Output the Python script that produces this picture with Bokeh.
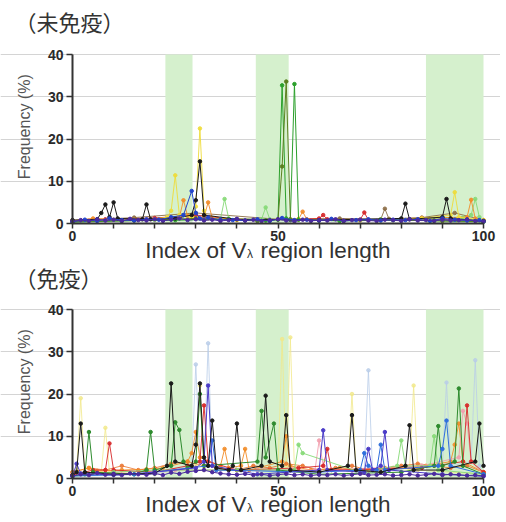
import math
from bokeh.plotting import figure
from bokeh.models import Range1d, FixedTicker, BoxAnnotation, Label
from bokeh.layouts import column
from bokeh.embed import file_html
from bokeh.resources import INLINE

# ---------------- data ----------------
title_top = "（未免疫）"
title_bottom = "（免疫）"
y_label = "Frequency (%)"
x_label_parts = ["Index of V", "λ", "region length"]
y_ticks = [0, 10, 20, 30, 40]
x_ticks = [0, 50, 100]
x_minor = [10, 20, 30, 40, 60, 70, 80, 90]
bands = [(22.6, 29.2), (44.6, 52.6), (86.0, 100.0)]

base_x = list(range(0, 101, 2))
base_x4 = list(range(0, 101, 4))

# top panel (unimmunised)
top_purple_y = [0.5, 0.8, 0.6, 1.0, 0.7, 0.9, 0.6, 1.1, 0.8, 0.7,
                1.0, 0.6, 0.9, 1.2, 0.8, 1.0, 0.7, 0.9, 0.6, 0.8,
                1.1, 0.7, 0.9, 0.6, 0.8, 1.0, 0.7, 0.5, 0.9, 0.6,
                0.8, 0.7, 1.0, 0.6, 0.8, 0.9, 0.7, 0.6, 0.9, 0.8,
                0.6, 1.0, 0.7, 0.8, 0.6, 0.9, 0.7, 0.8, 1.0, 0.6,
                0.5]
top_blue_x = [0, 3, 6, 9, 12, 15, 18, 21, 24, 27, 29, 30, 31, 33, 36, 39, 42, 45, 48, 51,
              54, 57, 60, 63, 66, 69, 72, 75, 78, 81, 84, 87, 90, 93, 96, 99, 100]
top_blue_y = [0.4, 0.9, 0.6, 1.2, 0.8, 0.7, 1.0, 0.9, 1.5, 2.0, 7.7, 2.5, 1.2, 1.4, 0.9, 0.8, 0.7, 1.0, 0.6, 1.3,
              0.8, 0.9, 0.7, 1.1, 0.6, 0.8, 1.0, 0.7, 0.9, 0.8, 1.0, 0.6, 1.2, 0.9, 0.7, 0.8, 0.5]
top_green_x = [0, 12, 25, 38, 47, 50, 51, 52, 53, 54, 55, 65, 78, 88, 100]
top_green_y = [0.3, 0.6, 0.8, 1.0, 0.7, 0.9, 32.7, 1.2, 0.8, 33.0, 0.9, 0.6, 0.8, 0.7, 0.4]
top_olive_x = [0, 15, 30, 45, 50, 51, 52, 53, 60, 75, 90, 100]
top_olive_y = [0.5, 0.7, 1.2, 0.6, 1.0, 13.5, 33.6, 1.0, 0.7, 0.9, 0.6, 0.5]
top_yellow_x = [0, 10, 20, 23, 24, 25, 26, 29, 30, 31, 32, 33, 40, 55, 70, 85, 92, 93, 94, 100]
top_yellow_y = [0.6, 0.9, 1.0, 1.5, 3.0, 11.4, 2.0, 1.5, 4.0, 22.5, 3.0, 1.2, 0.8, 1.0, 0.7, 1.2, 2.0, 7.4, 1.5, 0.8]
top_black_x = [0, 6, 7, 8, 9, 10, 11, 17, 18, 19, 25, 29, 30, 31, 32, 40, 60, 80, 81, 82, 90, 91, 92, 100]
top_black_y = [0.8, 1.0, 2.5, 4.5, 1.5, 5.0, 1.2, 1.0, 4.5, 1.0, 1.2, 2.0, 5.5, 14.7, 2.0, 1.0, 0.8, 1.2, 4.7, 1.0, 1.5, 5.8, 1.2, 0.6]
top_orange_x = [0, 5, 15, 26, 27, 28, 32, 33, 34, 45, 55, 56, 57, 70, 85, 96, 97, 98, 100]
top_orange_y = [0.7, 1.2, 0.9, 1.5, 5.5, 1.8, 1.5, 5.0, 1.3, 0.9, 1.0, 2.8, 1.0, 0.8, 1.3, 1.5, 5.6, 1.2, 0.7]
top_lgreen_x = [0, 20, 36, 37, 38, 46, 47, 48, 60, 75, 95, 97, 98, 99, 100]
top_lgreen_y = [0.5, 0.8, 1.0, 5.8, 1.2, 1.0, 3.8, 1.0, 0.7, 1.0, 1.4, 2.0, 5.8, 1.5, 0.6]
top_red_x = [0, 8, 20, 30, 40, 55, 60, 61, 62, 70, 71, 72, 85, 100]
top_red_y = [0.4, 1.0, 1.3, 2.0, 0.9, 1.0, 1.2, 2.0, 1.0, 0.9, 2.6, 0.8, 1.1, 0.6]
top_brown_x = [0, 15, 30, 50, 65, 75, 76, 77, 85, 93, 100]
top_brown_y = [0.6, 1.4, 2.5, 1.0, 1.2, 1.0, 3.5, 1.1, 1.4, 2.5, 0.8]

# bottom panel (immunised)
bot_orange_base_y = [1.5, 2.5, 2.0, 3.0, 2.0, 2.5, 3.5, 4.0, 3.0, 2.5,
                     2.0, 3.0, 2.5, 3.5, 3.0, 2.0, 2.5, 3.0, 2.0, 2.5,
                     3.0, 3.5, 3.0, 2.5, 3.0, 1.5]
bot_purple_y = [0.6, 1.0, 0.8, 1.3, 0.9, 1.1, 0.8, 1.2, 1.0, 0.9,
                1.2, 0.8, 1.4, 1.1, 1.6, 1.8, 2.0, 1.5, 1.2, 1.0,
                0.9, 1.1, 0.8, 1.0, 0.7, 0.9, 1.1, 0.8, 1.0, 0.7,
                0.9, 0.8, 1.0, 0.7, 0.9, 1.1, 0.8, 0.9, 1.0, 0.7,
                0.8, 1.0, 0.7, 0.9, 1.1, 0.8, 1.0, 0.9, 0.7, 0.8,
                0.6]
bot_ltyellow_x = [0, 1, 2, 3, 7, 8, 9, 20, 30, 31, 32, 50, 51, 52, 53, 54, 67, 68, 69, 82, 83, 84, 100]
bot_ltyellow_y = [0.5, 2.0, 19.0, 1.5, 1.5, 12.0, 1.5, 1.0, 3.0, 22.0, 2.0, 2.0, 33.0, 3.0, 33.4, 2.0, 2.0, 20.0, 2.0, 2.0, 22.0, 2.0, 1.0]
bot_ltblue_x = [0, 20, 29, 30, 31, 32, 33, 34, 50, 71, 72, 73, 90, 91, 92, 97, 98, 99, 100]
bot_ltblue_y = [0.5, 1.0, 3.0, 27.0, 4.0, 3.0, 32.0, 3.0, 1.5, 2.0, 25.6, 2.0, 3.0, 22.7, 3.0, 4.0, 28.0, 3.0, 1.0]
bot_orange_x = [0, 4, 6, 12, 18, 22, 28, 29, 30, 31, 36, 37, 38, 41, 42, 43, 51, 52, 53, 58,
                65, 70, 78, 86, 92, 93, 94, 95, 100]
bot_orange_y = [1.5, 2.5, 1.8, 2.0, 2.2, 2.5, 4.0, 6.0, 11.0, 5.0, 3.0, 7.0, 2.5, 3.0, 7.0, 2.0, 4.0, 10.0, 3.0, 2.0,
                2.5, 2.0, 2.5, 3.0, 4.0, 8.0, 13.0, 4.0, 1.5]
bot_pink_x = [0, 10, 25, 45, 59, 60, 61, 62, 85, 94, 95, 96, 97, 100]
bot_pink_y = [1.0, 1.5, 2.0, 2.0, 2.0, 9.0, 3.0, 2.0, 3.0, 5.0, 16.0, 13.0, 4.0, 1.0]
bot_red_x = [0, 5, 8, 9, 10, 20, 28, 31, 32, 33, 40, 55, 61, 62, 63, 85, 95, 96, 97, 100]
bot_red_y = [0.8, 2.0, 2.0, 8.3, 2.0, 1.5, 3.0, 4.0, 17.3, 4.0, 2.0, 2.5, 3.0, 7.0, 2.0, 2.5, 4.0, 17.3, 4.0, 1.5]
bot_lgreen_x = [0, 10, 20, 40, 54, 55, 56, 70, 79, 80, 81, 87, 88, 89, 100]
bot_lgreen_y = [0.5, 1.5, 2.0, 2.0, 2.0, 8.0, 6.0, 1.5, 3.0, 9.0, 3.0, 3.0, 10.0, 2.0, 1.0]
bot_green_x = [0, 3, 4, 5, 15, 18, 19, 20, 24, 25, 26, 27, 28, 30, 31, 32, 45, 46, 47, 49,
               50, 60, 80, 88, 89, 90, 93, 94, 95, 100]
bot_green_y = [0.6, 1.0, 11.0, 1.5, 1.0, 2.0, 11.0, 2.0, 3.0, 13.3, 11.5, 4.0, 2.5, 4.0, 20.0, 3.0, 4.0, 16.0, 5.0, 13.0,
               2.0, 1.0, 1.5, 3.0, 12.4, 3.0, 4.0, 21.3, 3.0, 1.0]
bot_blue_x = [0, 15, 33, 34, 35, 60, 70, 71, 72, 74, 75, 76, 89, 90, 91, 92, 100]
bot_blue_y = [0.6, 1.0, 3.0, 9.0, 2.0, 1.5, 2.0, 6.0, 3.0, 2.0, 8.0, 2.0, 3.0, 7.0, 13.7, 3.0, 1.0]
bot_violet_x = [0, 1, 2, 10, 20, 30, 32, 33, 34, 45, 60, 61, 62, 71, 72, 73, 75, 76, 77, 90, 100]
bot_violet_y = [0.5, 3.5, 1.2, 0.8, 1.5, 2.5, 4.0, 22.0, 3.0, 1.0, 2.0, 11.4, 2.0, 1.5, 7.0, 2.0, 3.0, 11.0, 2.0, 1.0, 0.5]
bot_black_x = [0, 1, 2, 3, 10, 20, 23, 24, 25, 29, 30, 31, 32, 33, 34, 35, 38, 39, 40, 41,
               46, 47, 48, 51, 52, 53, 60, 67, 68, 69, 75, 81, 82, 83, 90, 98, 99, 100]
bot_black_y = [0.8, 1.5, 13.0, 1.5, 1.0, 1.2, 3.0, 22.5, 4.0, 3.0, 8.0, 22.5, 5.0, 3.0, 13.7, 2.5, 2.0, 3.0, 13.0, 2.0,
               3.0, 19.6, 4.0, 3.0, 15.0, 2.0, 1.5, 3.0, 15.0, 2.0, 1.5, 3.0, 12.6, 2.0, 2.0, 4.0, 13.0, 3.0]

top_series = [
    (top_brown_x, top_brown_y, "#8c6d46", 0.9),
    (top_red_x, top_red_y, "#d62728", 0.9),
    (top_lgreen_x, top_lgreen_y, "#86d977", 0.9),
    (top_orange_x, top_orange_y, "#f28c28", 0.9),
    (top_yellow_x, top_yellow_y, "#eedc3a", 0.9),
    (top_green_x, top_green_y, "#2ca02c", 1.0),
    (top_olive_x, top_olive_y, "#5b7f1f", 1.0),
    (top_black_x, top_black_y, "#1a1a1a", 1.0),
    (top_blue_x, top_blue_y, "#2244cc", 1.0),
    (base_x, top_purple_y, "#4b2a9e", 1.0),
]
bottom_series = [
    (bot_ltyellow_x, bot_ltyellow_y, "#f1e98a", 0.8),
    (bot_ltblue_x, bot_ltblue_y, "#b9cde8", 0.8),
    (base_x4, bot_orange_base_y, "#e8702a", 0.8),
    (bot_orange_x, bot_orange_y, "#f28c28", 0.9),
    (bot_pink_x, bot_pink_y, "#f2a0ae", 0.9),
    (bot_red_x, bot_red_y, "#d62728", 0.9),
    (bot_lgreen_x, bot_lgreen_y, "#86d977", 0.9),
    (bot_green_x, bot_green_y, "#2e8b2e", 1.0),
    (bot_blue_x, bot_blue_y, "#2f6fdc", 1.0),
    (bot_violet_x, bot_violet_y, "#4b3cc8", 1.0),
    (bot_black_x, bot_black_y, "#1a1a1a", 1.0),
    (base_x, bot_purple_y, "#4b2a9e", 1.0),
]

# ---------------- layout constants (pixels) ----------------
FONT = "Liberation Sans"
CJK = "Noto Sans CJK JP"
W = 500
LEFT = 72               # px from canvas left to x=0
PX_X = 411 / 100.0      # px per x unit
PX_Y = 169 / 40.0       # px per y unit
RIGHT = W - LEFT - 411  # px right of x=100


def px_to_x(px):
    return (px - LEFT) / PX_X


def make_panel(title, series, height, zero_px, title_px, label_px):
    # zero_px: distance of y=0 from the top of the canvas
    y0 = -(height - zero_px) / PX_Y
    y1 = zero_px / PX_Y
    p = figure(width=W, height=height, output_backend="svg", toolbar_location=None,
               x_range=Range1d(-LEFT / PX_X, 100 + RIGHT / PX_X),
               y_range=Range1d(y0, y1),
               min_border=0, min_border_left=0, min_border_right=0,
               min_border_top=0, min_border_bottom=0)
    p.outline_line_color = None
    p.background_fill_color = "white"
    p.xgrid.visible = False
    p.ygrid.ticker = FixedTicker(ticks=[10, 20, 30, 40])
    p.ygrid.bounds = (0, 100)
    p.ygrid.grid_line_color = "#d4d4d4"
    p.ygrid.grid_line_width = 1

    for left, right in bands:
        p.add_layout(BoxAnnotation(left=left, right=right, bottom=0, top=40,
                                   fill_color="#d5f0cd", fill_alpha=1.0,
                                   line_color=None, level="underlay"))

    for xs, ys, c, a in series:
        p.line(xs, ys, line_color=c, line_width=1, line_alpha=a)
        p.scatter(xs, ys, size=3.5, fill_color=c, line_color=c, alpha=a)

    ya = p.yaxis[0]
    ya.fixed_location = 0
    ya.bounds = (0, 40)
    ya.ticker = FixedTicker(ticks=y_ticks)
    ya.axis_line_color = "#333333"
    ya.axis_line_width = 2
    ya.major_tick_line_color = "#333333"
    ya.major_tick_line_width = 1.5
    ya.major_tick_out = 6
    ya.major_tick_in = 0
    ya.minor_tick_line_color = None
    ya.major_label_text_font = FONT
    ya.major_label_text_font_style = "bold"
    ya.major_label_text_font_size = "14px"
    ya.major_label_text_color = "#2a2a2a"
    ya.major_label_standoff = 3

    xa = p.xaxis[0]
    xa.fixed_location = 0
    xa.bounds = (0, 100)
    xa.ticker = FixedTicker(ticks=x_ticks, minor_ticks=x_minor)
    xa.axis_line_color = "#333333"
    xa.axis_line_width = 2
    xa.major_tick_line_color = "#333333"
    xa.major_tick_line_width = 1.5
    xa.major_tick_out = 5
    xa.major_tick_in = 0
    xa.minor_tick_line_color = "#333333"
    xa.minor_tick_line_width = 1.5
    xa.minor_tick_out = 5
    xa.minor_tick_in = 0
    xa.major_label_text_font = FONT
    xa.major_label_text_font_style = "bold"
    xa.major_label_text_font_size = "14px"
    xa.major_label_text_color = "#2a2a2a"
    xa.major_label_standoff = 2

    # y axis title (rotated)
    p.add_layout(Label(x=px_to_x(24), y=22.9,
                       text=y_label, angle=math.pi / 2, text_font=FONT, text_font_size="16px",
                       text_color="#555555", text_align="center", text_baseline="middle"))
    # panel title
    p.add_layout(Label(x=px_to_x(14), y=(zero_px - title_px) / PX_Y, text=title, text_font=CJK,
                       text_font_size="22px", text_color="#333333",
                       text_baseline="middle", text_align="left"))
    # x axis title with subscript lambda
    yb = (zero_px - label_px) / PX_Y
    p.add_layout(Label(x=px_to_x(246), y=yb, text=x_label_parts[0], text_font=FONT, text_font_size="22.5px",
                       text_color="#333333", text_align="right", text_baseline="alphabetic"))
    p.add_layout(Label(x=px_to_x(246.5), y=yb - 3.5 / PX_Y, text=x_label_parts[1], text_font=FONT,
                       text_font_size="12px", text_color="#333333", text_align="left",
                       text_baseline="alphabetic"))
    p.add_layout(Label(x=px_to_x(260), y=yb, text=x_label_parts[2], text_font=FONT, text_font_size="22.5px",
                       text_color="#333333", text_align="left", text_baseline="alphabetic"))
    return p


# canvas-relative pixel positions
p1 = make_panel(title_top, top_series, 262, 223, 20, 250)
p2 = make_panel(title_bottom, bottom_series, 258, 216, 14, 242)

layout = column(p1, p2, spacing=0)
open("out.html", "w").write(file_html(layout, INLINE))
